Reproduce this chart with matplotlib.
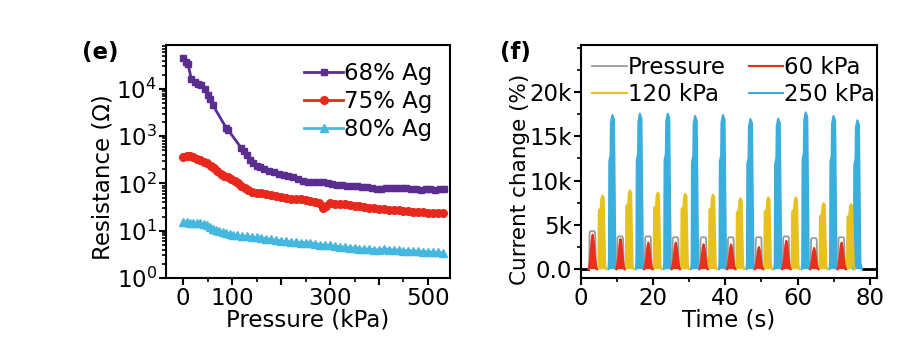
import numpy as np
import matplotlib
matplotlib.use("Agg")
import matplotlib.pyplot as plt
from matplotlib.ticker import LogLocator, LogFormatterMathtext, MultipleLocator, FixedLocator, NullFormatter

plt.rcParams["font.family"] = ["DejaVu Sans"]
plt.rcParams["mathtext.fontset"] = "dejavusans"

FS = 16.5

# ---- panel (e): resistance vs pressure ----
p68 = [0, 5, 10, 17, 24, 30, 37, 44, 50, 55, 61, 88, 92, 119, 125, 131, 137, 143, 150, 157,
       165, 175, 185, 195, 205, 215, 225, 235, 245, 255, 265, 275, 285, 295, 305, 315, 325,
       335, 345, 355, 365, 375, 385, 395, 405, 415, 425, 435, 445, 455, 465, 475, 485, 495,
       505, 515, 525, 532]
r68 = [4.5e4, 3.8e4, 3.3e4, 1.6e4, 1.4e4, 1.3e4, 1.2e4, 1.0e4, 7.5e3, 6.0e3, 4.5e3, 1.5e3,
       1.35e3, 560, 480, 400, 320, 270, 240, 220, 200, 185, 175, 160, 150, 145, 135, 125, 115,
       110, 110, 105, 105, 100, 98, 95, 93, 90, 90, 88, 85, 83, 80, 76, 78, 82, 82, 82, 80, 80,
       78, 76, 74, 75, 76, 74, 76, 78]

p75 = [0, 7, 14, 21, 28, 35, 42, 49, 56, 63, 70, 77, 84, 91, 98, 105, 112, 119, 126, 133, 140,
       150, 160, 170, 180, 190, 200, 210, 220, 230, 240, 250, 260, 270, 278, 285, 292, 300, 310,
       320, 330, 340, 350, 360, 370, 380, 390, 400, 410, 420, 430, 440, 450, 460, 470, 480, 490,
       500, 510, 520, 530]
r75 = [370, 390, 385, 360, 330, 310, 290, 265, 240, 210, 180, 160, 145, 135, 125, 112, 100, 90,
       80, 72, 66, 63, 62, 60, 58, 55, 52, 50, 48, 47, 46, 44, 42, 40, 38, 31, 34, 38, 37, 36,
       36, 35, 34, 33, 32, 31, 30, 29, 29, 28, 27, 27, 26, 26, 25, 25, 25, 24, 24, 24, 24]

p80 = [0, 7, 14, 21, 28, 35, 42, 48, 54, 60, 67, 74, 81, 88, 95, 102, 110, 120, 130, 140, 150,
       160, 170, 180, 190, 200, 210, 220, 230, 240, 250, 260, 270, 280, 290, 300, 310, 320, 330,
       340, 350, 360, 370, 380, 390, 400, 410, 420, 430, 440, 450, 460, 470, 480, 490, 500, 510,
       520, 530]
r80 = [15.5, 15, 14.5, 14.5, 14.5, 14.5, 14, 13, 12, 11, 10.5, 10, 9.5, 9, 8.7, 8.3, 8.0, 7.8,
       7.6, 7.4, 7.2, 7.0, 6.8, 6.6, 6.3, 6.1, 6.0, 5.8, 5.7, 5.6, 5.6, 5.5, 5.3, 5.1, 5.0, 4.9,
       4.7, 4.6, 4.5, 4.4, 4.3, 4.2, 4.1, 4.1, 4.0, 3.9, 4.2, 4.0, 3.9, 3.9, 3.8, 3.8, 3.7, 3.7,
       3.6, 3.6, 3.5, 3.5, 3.4]

# ---- panel (f): current change pulses ----
t60 = [3.3, 11.0, 18.7, 26.3, 34.0, 41.6, 49.3, 56.9, 64.6, 72.2]
pk60 = [3900, 3400, 3000, 3000, 2800, 2800, 2500, 3200, 2400, 3000]
pk_press = [4300, 3700, 3700, 3600, 3600, 3600, 3600, 3700, 3500, 3600]
t120 = [5.9, 13.5, 21.2, 28.8, 36.5, 44.1, 51.8, 59.4, 67.1, 74.7]
pk120 = [8300, 8900, 8650, 8500, 8400, 8000, 8100, 8100, 7450, 7350]
t250 = [8.8, 16.4, 24.1, 31.7, 39.4, 47.0, 54.7, 62.3, 70.0, 76.6]
pk250 = [17400, 17550, 17550, 17300, 17400, 16950, 17000, 17700, 17300, 16800]
t_base = [0, 2.1, np.nan, 78.0, 82]
y_base = [0, 0, np.nan, 0, 0]

# pulse templates: time offsets (s) and fraction of peak
sh60_t = [-1.2, -0.95, -0.6, -0.25, 0.0, 0.25, 0.6, 0.95, 1.2]
sh60_f = [0.0, 0.08, 0.4, 0.85, 1.0, 0.85, 0.4, 0.08, 0.0]
shp_t = [-1.0, -0.85, -0.6, 0.5, 0.7, 0.9]
shp_f = [0.0, 0.95, 1.0, 1.0, 0.95, 0.0]
sh120_t = [-1.15, -1.0, -0.9, -0.35, -0.2, 0.1, 0.45, 0.6, 0.85, 1.15]
sh120_f = [0.0, 0.05, 0.8, 0.83, 0.96, 1.0, 0.97, 0.6, 0.05, 0.0]
sh250_t = [-1.15, -1.0, -0.9, -0.55, -0.45, -0.05, 0.4, 0.55, 0.8, 1.15]
sh250_f = [0.0, 0.05, 0.7, 0.74, 0.95, 1.0, 0.97, 0.6, 0.05, 0.0]

c68, c75, c80 = "#5c2d91", "#e8281c", "#45b8e0"
cgray, cred, cyel, cblue = "#9a9a9a", "#e8301c", "#e6c21e", "#3aaedc"

fig = plt.figure(figsize=(9.15, 3.48), dpi=100)
ax1 = fig.add_axes([0.1814, 0.2011, 0.3104, 0.6695])
ax2 = fig.add_axes([0.6347, 0.2011, 0.3238, 0.6695])

ax1.plot(p68, r68, "-s", color=c68, ms=5, lw=2, label="68% Ag")
ax1.plot(p75, r75, "-o", color=c75, ms=5.5, lw=2, label="75% Ag")
ax1.plot(p80, r80, "-^", color=c80, ms=5.5, lw=2, label="80% Ag")
ax1.set_yscale("log")
ax1.set_ylim(1, 8.5e4)
ax1.set_xlim(-35, 545)
ax1.yaxis.set_major_locator(FixedLocator([1, 10, 100, 1e3, 1e4]))
ax1.yaxis.set_major_formatter(LogFormatterMathtext())
ax1.yaxis.set_minor_locator(LogLocator(subs=np.arange(2, 10)))
ax1.yaxis.set_minor_formatter(NullFormatter())
ax1.set_xticks([0, 100, 200, 300, 400, 500])
ax1.set_xticklabels(["0", "100", "", "300", "", "500"])
ax1.xaxis.set_minor_locator(MultipleLocator(50))
ax1.set_xlabel("Pressure (kPa)", fontsize=FS, labelpad=-1)
ax1.set_ylabel("Resistance (\u03a9)", fontsize=FS)
ax1.yaxis.set_label_coords(-0.183, 0.435)
ax1.legend(loc="upper right", frameon=False, fontsize=FS, handlelength=1.7,
           handletextpad=0.05, labelspacing=0.22, borderaxespad=0.55, borderpad=0.2)

# build and draw the pulses
def pulses(times, peaks, sht, shf):
    xs, ys = [], []
    for t0, pk in zip(times, peaks):
        xs += [t0 + d for d in sht] + [np.nan]
        ys += [pk * f for f in shf] + [np.nan]
    return np.array(xs), np.array(ys)

def draw(times, peaks, sht, shf, color, label, filled=True, lw=1.5, z=3):
    x, y = pulses(times, peaks, sht, shf)
    if filled:
        ax2.fill(np.nan_to_num(x), np.nan_to_num(y), color=color, lw=0, zorder=z - 0.5)
    ax2.plot(x, y, color=color, lw=lw, zorder=z, label=label)

ax2.plot(t_base, y_base, color="black", lw=2, zorder=1)
draw(t250, pk250, sh250_t, sh250_f, cblue, "250 kPa")
draw(t120, pk120, sh120_t, sh120_f, cyel, "120 kPa")
draw(t60, pk_press, shp_t, shp_f, cgray, "Pressure", filled=False, lw=1.3, z=3.5)
draw(t60, pk60, sh60_t, sh60_f, cred, "60 kPa", z=4)

ax2.set_xlim(0, 82)
ax2.set_ylim(-1000, 25300)
ax2.set_xticks([0, 20, 40, 60, 80])
ax2.xaxis.set_minor_locator(MultipleLocator(10))
ax2.set_yticks([0, 5000, 10000, 15000, 20000])
ax2.set_yticklabels(["0.0", "5k", "10k", "15k", "20k"])
ax2.yaxis.set_minor_locator(MultipleLocator(2500))
ax2.set_xlabel("Time (s)", fontsize=FS, labelpad=-1)
ax2.set_ylabel("Current change (%)", fontsize=15.5)
ax2.yaxis.set_label_coords(-0.17, 0.425)
h, l = ax2.get_legend_handles_labels()
order = [l.index(k) for k in ["Pressure", "120 kPa", "60 kPa", "250 kPa"]]
ax2.legend([h[i] for i in order], [l[i] for i in order], ncol=2, loc="upper left",
           frameon=False, fontsize=FS, handlelength=1.5, handletextpad=0.05,
           columnspacing=1.0, labelspacing=0.15, borderaxespad=0.35, borderpad=0.15)

for ax in (ax1, ax2):
    for s in ax.spines.values():
        s.set_linewidth(1.5)
    ax.tick_params(which="major", direction="out", length=5, width=1.5, labelsize=FS, pad=1.5)
    ax.tick_params(which="minor", direction="out", length=3, width=1.2)

fig.text(0.09, 0.83, "(e)", fontsize=FS, fontweight="bold")
fig.text(0.546, 0.83, "(f)", fontsize=FS, fontweight="bold")

fig.savefig("out.png", dpi=100)
